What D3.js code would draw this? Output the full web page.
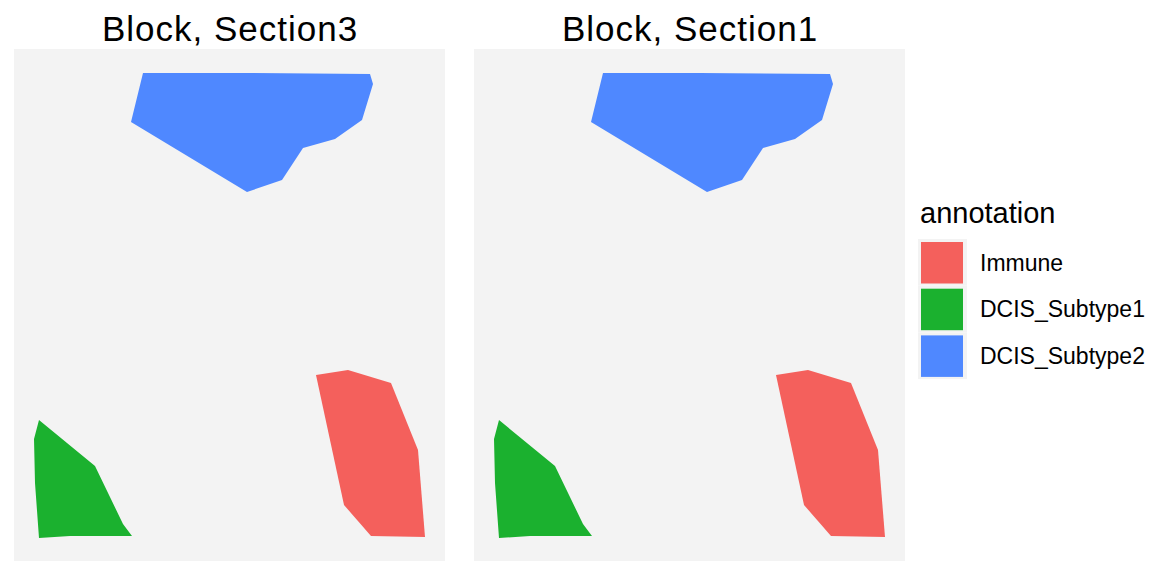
<!DOCTYPE html>
<html>
<head>
<meta charset="utf-8">
<script src="https://cdn.jsdelivr.net/npm/d3@7"></script>
<style>
  body { margin: 0; background: #fff; }
  svg { display: block; font-family: "Liberation Sans", Arial, sans-serif; }
</style>
</head>
<body>
<svg id="chart" width="1152" height="576"></svg>
<script>
// sections shown as facets
const sections = ["Section3", "Section1"];
const annotations = ["Immune", "DCIS_Subtype1", "DCIS_Subtype2"];
const colors = ["#F4605C", "#1BB12F", "#4F88FF"];

// polygon outlines (x, y), same for both sections
const immunePoly = [[302,186],[334,191],[377,178],[404,111],[411,24],[357,25],[330,56]];
const subtype1Poly = [[25,141],[20,122],[21,78],[25,23],[56,25],[118,25],[109,37],[81,95]];
const subtype2Poly = [[129,488],[226,488],[356,487],[359,477],[348,441],[321,422],[289,413],[268,381],[233,369],[117,439]];

const svg = d3.select("#chart");
const panelW = 431, panelH = 512, panelTop = 49;
const panelLeft = [14, 474];

const x = d3.scaleLinear().domain([0, 431]).range([0, panelW]);
const y = d3.scaleLinear().domain([0, 512]).range([panelH, 0]);

const line = d3.line().x(d => x(d[0])).y(d => y(d[1])).curve(d3.curveLinearClosed);
const color = d3.scaleOrdinal().domain(annotations).range(colors);

const shapes = [
  { annotation: "Immune", points: immunePoly },
  { annotation: "DCIS_Subtype1", points: subtype1Poly },
  { annotation: "DCIS_Subtype2", points: subtype2Poly }
];

sections.forEach((s, i) => {
  const g = svg.append("g").attr("transform", `translate(${panelLeft[i]},${panelTop})`);

  g.append("rect")
    .attr("width", panelW)
    .attr("height", panelH)
    .attr("fill", "#f3f3f3");

  g.selectAll("path")
    .data(shapes)
    .join("path")
    .attr("d", d => line(d.points))
    .attr("fill", d => color(d.annotation));

  // facet title
  svg.append("text")
    .attr("x", panelLeft[i] + panelW / 2 + 0.5)
    .attr("y", 41)
    .attr("text-anchor", "middle")
    .style("font-size", "35px")
    .style("letter-spacing", "1px")
    .style("fill", "#000")
    .text(`Block, ${s}`);
});

// legende
const legend = svg.append("g").attr("transform", "translate(918,0)");
legend.append("text")
  .attr("x", 2)
  .attr("y", 223)
  .style("font-size", "29px")
  .text("annotation");

const keyH = 46.7;
const keys = legend.selectAll("g.key")
  .data(annotations)
  .join("g")
  .attr("class", "key")
  .attr("transform", (d, i) => `translate(0,${239 + i * keyH})`);

keys.append("rect")
  .attr("width", 49)
  .attr("height", keyH)
  .attr("fill", "#f3f3f3");

keys.append("rect")
  .attr("x", 3)
  .attr("y", 3)
  .attr("width", 42)
  .attr("height", 41.5)
  .attr("fill", d => color(d));

keys.append("text")
  .attr("x", 62)
  .attr("y", keyH / 2 + 8.3)
  .style("font-size", "23px")
  .text(d => d);
</script>
</body>
</html>
